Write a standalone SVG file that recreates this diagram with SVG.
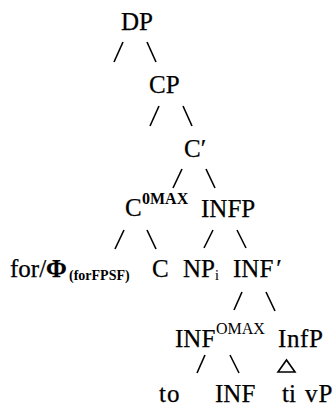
<svg xmlns="http://www.w3.org/2000/svg" width="335" height="406" viewBox="0 0 335 406">
  <style>
    .lbl { font-family: "Liberation Serif", "Times New Roman", serif; font-size: 25px; fill: #000; stroke: #000; stroke-width: 0.25; }
    .sup { font-family: "Liberation Serif", "Times New Roman", serif; font-size: 16px; fill: #000; }
    .sub { font-family: "Liberation Serif", "Times New Roman", serif; font-size: 14px; font-weight: bold; fill: #000; }
    .edge { stroke: #000; stroke-width: 1.6; fill: none; stroke-linecap: butt; }
  </style>
  <rect width="335" height="406" fill="#fff"/>

  <!-- branches -->
  <g id="connectors">
    <line class="edge" x1="114" y1="62" x2="123" y2="42"/>
    <line class="edge" x1="147" y1="42" x2="156" y2="62"/>
    <line class="edge" x1="150" y1="126" x2="159" y2="106"/>
    <line class="edge" x1="183" y1="106" x2="192" y2="126"/>
    <line class="edge" x1="173" y1="188" x2="182" y2="169"/>
    <line class="edge" x1="206" y1="169" x2="215" y2="188"/>
    <line class="edge" x1="115" y1="249" x2="124" y2="230"/>
    <line class="edge" x1="147" y1="230" x2="156" y2="249"/>
    <line class="edge" x1="204" y1="248" x2="213" y2="230"/>
    <line class="edge" x1="237" y1="230" x2="246" y2="248"/>
    <line class="edge" x1="234" y1="310" x2="242" y2="292"/>
    <line class="edge" x1="266" y1="292" x2="275" y2="311"/>
    <line class="edge" x1="197" y1="373" x2="205" y2="355"/>
    <line class="edge" x1="230" y1="355" x2="239" y2="373"/>
    <polygon class="edge" stroke-width="1.3" points="278,372 286.5,360 295,372"/>
  </g>

  <g id="dp"><text class="lbl" x="121" y="30">DP</text></g>
  <g id="cp"><text class="lbl" x="149" y="93">CP</text></g>
  <g id="cbar"><text class="lbl" x="184" y="157">C′</text></g>
  <g id="c0max">
    <text class="lbl" x="125" y="216">C</text>
    <text class="sup" x="142" y="204" font-weight="bold">0MAX</text>
  </g>
  <g id="infp"><text class="lbl" x="201" y="217">INFP</text></g>
  <g id="for-phi">
    <text class="lbl" x="10" y="277">for/<tspan font-weight="bold">Φ</tspan></text>
    <text class="sub" x="69" y="280">(forFPSF)</text>
  </g>
  <g id="c"><text class="lbl" x="152" y="277">C</text></g>
  <g id="np"><text class="lbl" x="183" y="277">NP<tspan font-size="14" dy="3" stroke-width="0.1">i</tspan></text></g>
  <g id="infbar"><text class="lbl" x="233" y="277">INF<tspan dx="3">′</tspan></text></g>
  <g id="inf0max">
    <text class="lbl" x="175" y="347">INF</text>
    <text class="sup" x="216" y="334">OMAX</text>
  </g>
  <g id="infp-lower"><text class="lbl" x="278" y="347" font-size="26" letter-spacing="0.6">InfP</text></g>
  <g id="to"><text class="lbl" x="159" y="402" letter-spacing="1">to</text></g>
  <g id="inf"><text class="lbl" x="215" y="402">INF</text></g>
  <g id="ti"><text class="lbl" x="282" y="402">ti</text></g>
  <g id="vp"><text class="lbl" x="305" y="402" letter-spacing="1">vP</text></g>
</svg>
